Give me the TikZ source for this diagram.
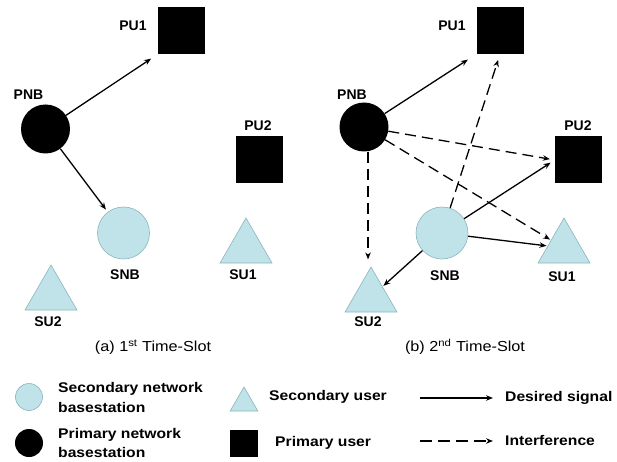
\documentclass[tikz,border=0pt]{standalone}
\usepackage{fontspec}
\setmainfont{Liberation Sans}
\usetikzlibrary{arrows.meta,shapes.geometric}
\definecolor{lb}{HTML}{BFE3E9}
\definecolor{lbd}{HTML}{8CB4BC}
\newcommand\wtxt[1]{\scalebox{1.12}[1]{#1}}
\begin{document}
\begin{tikzpicture}[x=1pt,y=-1pt,
 pnbnode/.style={circle,fill=black,minimum size=49pt,inner sep=0},
 snbnode/.style={circle,fill=lb,draw=lbd,line width=0.6pt,minimum size=52pt,inner sep=0},
 punode/.style={rectangle,fill=black,minimum size=47pt,inner sep=0},
 sunode/.style={regular polygon,regular polygon sides=3,fill=lb,draw=lbd,line width=0.6pt,minimum size=60pt,inner sep=0},
 lbl/.style={font=\bfseries\fontsize{14}{16}\selectfont,inner sep=0},
 captxt/.style={font=\fontsize{14.5}{16}\selectfont,inner sep=0},
 sig/.style={line width=1.3pt,-{Stealth[length=7pt,width=5.5pt]}},
 intf/.style={sig,dash pattern=on 11pt off 6pt},
 legtxt/.style={font=\bfseries\fontsize{14}{19.5}\selectfont,inner sep=0,anchor=west,align=left},
]
\useasboundingbox (0,0) rectangle (617,462);
% ---------- panel (a)
\node[punode] (pu1a) at (181.5,30.5) {};
\node[lbl] (pu1al) at (133,26) {PU1};
\node[pnbnode] (pnba) at (45.5,129) {};
\node[lbl] (pnbal) at (28.5,94.5) {PNB};
\node[punode] (pu2a) at (259.5,160) {};
\node[lbl] (pu2al) at (258,126) {PU2};
\node[snbnode] (snba) at (123.5,233) {};
\node[lbl] (snbal) at (125,275) {SNB};
\node[sunode] (su1a) at (246,248) {};
\node[lbl] (su1al) at (243,275) {SU1};
\node[sunode] (su2a) at (51,295) {};
\node[lbl] (su2al) at (48,322) {SU2};
\draw[sig,shorten >=8pt] (pnba) -- (pu1a.south west);
\draw[sig,shorten >=3pt] (pnba) -- (snba);
\node[captxt] (capa) at (153,347) {\wtxt{(a) 1\textsuperscript{st} Time-Slot}};
% ---------- panel (b)
\node[punode] (pu1b) at (500,30.5) {};
\node[lbl] (pu1bl) at (452,26) {PU1};
\node[pnbnode] (pnbb) at (364,127) {};
\node[lbl] (pnbbl) at (352,95) {PNB};
\node[punode] (pu2b) at (578.5,160) {};
\node[lbl] (pu2bl) at (578,126) {PU2};
\node[snbnode] (snbb) at (442,233) {};
\node[lbl] (snbbl) at (445,276) {SNB};
\node[sunode] (su1b) at (564,248) {};
\node[lbl] (su1bl) at (562,277) {SU1};
\node[sunode] (su2b) at (371,297) {};
\node[lbl] (su2bl) at (368,322) {SU2};
\coordinate (su2top) at ([xshift=-3pt]su2b.corner 1);
\draw[sig,shorten >=10pt] (pnbb) -- (pu1b.south west);
\draw[intf,shorten >=6pt] (snbb) -- (pu1b.south);
\draw[intf,shorten >=5pt] (pnbb) -- (pu2b.west);
\draw[intf,shorten >=1pt] (pnbb) -- (su1b);
\draw[sig,shorten >=5pt] (snbb) -- (pu2b.west);
\draw[sig,shorten >=1pt] (snbb) -- (su1b);
\draw[sig,shorten >=1pt] (snbb) -- (su2b);
\draw[intf,shorten >=7pt] (pnbb.south -| su2top) -- (su2top);
\node[captxt] (capb) at (465,347) {\wtxt{(b) 2\textsuperscript{nd} Time-Slot}};
% ---------- legend
\node[snbnode,minimum size=27pt] (lsnb) at (29,397) {};
\node[legtxt] (lsnbt) at (58,397.5) {\wtxt{Secondary network}\\\wtxt{basestation}};
\node[pnbnode,minimum size=28pt] (lpnb) at (29,443) {};
\node[legtxt] (lpnbt) at (58,443) {\wtxt{Primary network}\\\wtxt{basestation}};
\node[sunode,minimum size=32pt] (lsu) at (244,403) {};
\node[legtxt] (lsut) at (269,397) {\wtxt{Secondary user}};
\node[punode,minimum size=27.5pt] (lpu) at (244,443.5) {};
\node[legtxt] (lput) at (275,443) {\wtxt{Primary user}};
\coordinate (ds1) at (420,398);
\coordinate (ds2) at (493,398);
\draw[sig] (ds1) -- (ds2);
\node[legtxt] (dst) at (505,398) {\wtxt{Desired signal}};
\coordinate (if1) at (420,441);
\coordinate (if2) at (493,441);
\draw[sig,dash pattern=on 12pt off 6pt] (if1) -- (if2);
\node[legtxt] (ift) at (505,440) {\wtxt{Interference}};
\end{tikzpicture}
\end{document}
